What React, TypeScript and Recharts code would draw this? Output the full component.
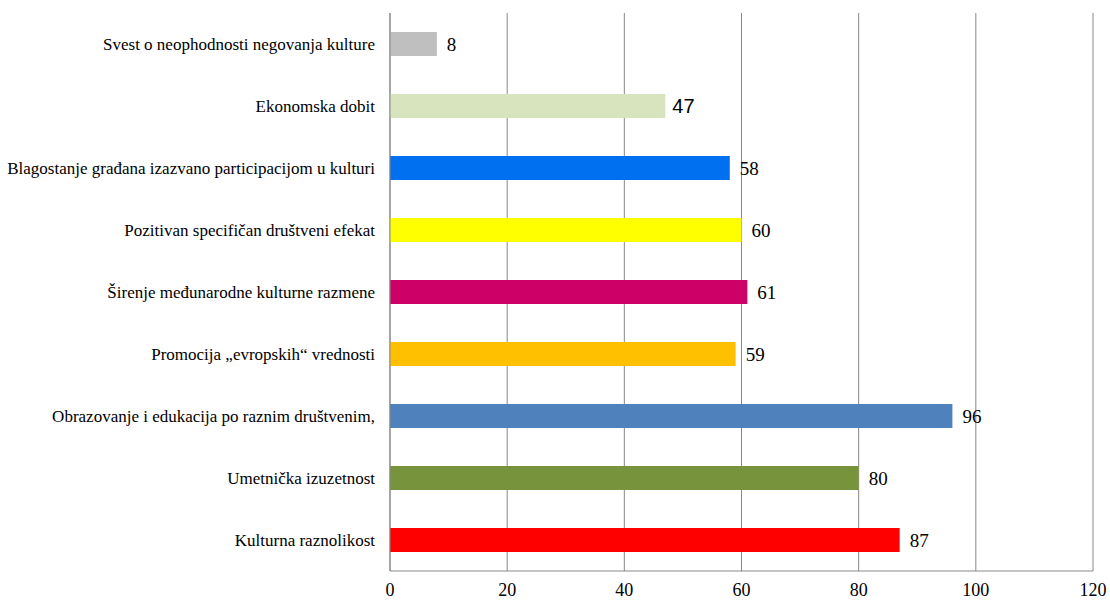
import React from "react";
import { BarChart, Bar, XAxis, YAxis, CartesianGrid, LabelList, Cell } from "recharts";

const categories = [
  "Svest o neophodnosti negovanja kulture",
  "Ekonomska dobit",
  "Blagostanje građana izazvano participacijom u kulturi",
  "Pozitivan specifičan društveni efekat",
  "Širenje međunarodne kulturne razmene",
  "Promocija „evropskih“ vrednosti",
  "Obrazovanje i edukacija po raznim društvenim,",
  "Umetnička izuzetnost",
  "Kulturna raznolikost",
];
const values = [8, 47, 58, 60, 61, 59, 96, 80, 87];
const colors = ["#BFBFBF", "#D7E4BD", "#0070F0", "#FFFF00", "#CC0066", "#FFC000", "#4F81BD", "#77933C", "#FF0000"];
const xTicks = [0, 20, 40, 60, 80, 100, 120];

const data = categories.map((name, i) => ({ name, value: values[i] }));

const serif = "Liberation Serif, Times New Roman, serif";
const sans = "Liberation Sans, Arial, sans-serif";

const renderLabel = (props: any) => {
  const { x, y, width, height, value, index } = props;
  const isSans = index === 1;
  return (
    <text
      x={x + width + (isSans ? 7 : 10)}
      y={y + height / 2}
      dy="0.36em"
      fontSize={isSans ? 20 : 19}
      style={{ fontFamily: isSans ? sans : serif }}
      fill="#000"
    >
      {value}
    </text>
  );
};

export default function App() {
  return (
    <div style={{ position: "absolute", left: 0, top: 0, background: "#fff", fontFamily: serif }}>
      <BarChart
        width={1110}
        height={602}
        data={data}
        layout="vertical"
        margin={{ top: 13, right: 17, bottom: 0, left: 0 }}
        style={{ fontFamily: serif }}
      >
        <CartesianGrid horizontal={false} vertical={true} stroke="#888" strokeWidth={1} />
        <XAxis
          type="number"
          domain={[0, 120]}
          ticks={xTicks}
          interval={0}
          tickLine={false}
          tickSize={0}
          tickMargin={12}
          height={31}
          axisLine={{ stroke: "#888" }}
          tick={{ fontSize: 18, fill: "#000", style: { fontFamily: serif } }}
        />
        <YAxis
          type="category"
          dataKey="name"
          width={390}
          tickLine={false}
          tickSize={0}
          tickMargin={15}
          axisLine={{ stroke: "#888" }}
          interval={0}
          tick={{ fontSize: 17, fill: "#000", style: { fontFamily: serif } }}
        />
        <Bar dataKey="value" barSize={24} isAnimationActive={false}>
          {data.map((d, i) => (
            <Cell key={d.name} fill={colors[i]} />
          ))}
          <LabelList dataKey="value" content={renderLabel} />
        </Bar>
      </BarChart>
    </div>
  );
}
